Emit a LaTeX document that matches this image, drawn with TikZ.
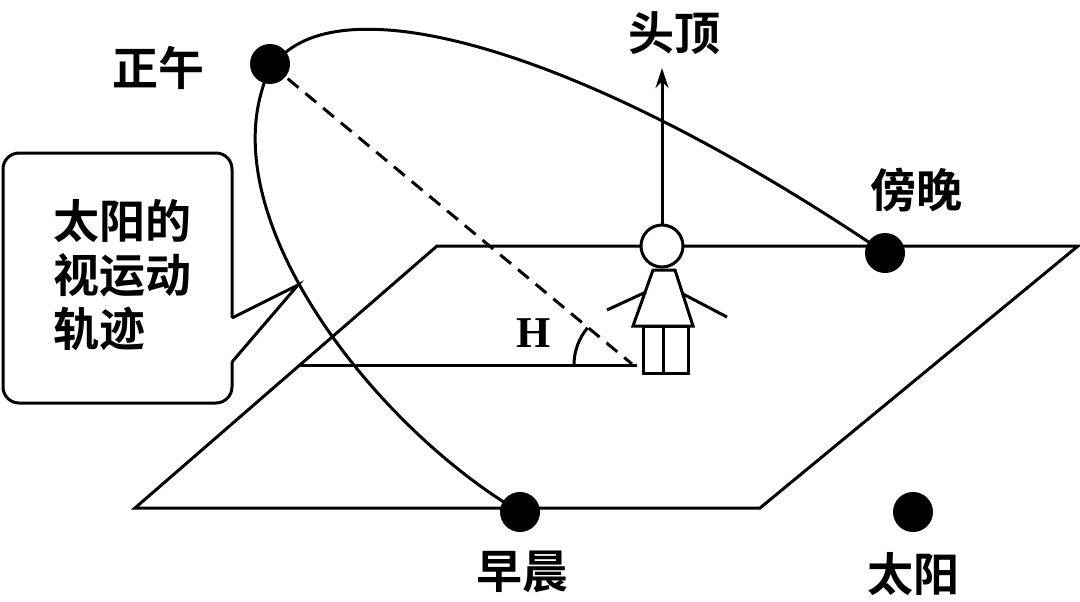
\documentclass[tikz,border=0pt]{standalone}
\usepackage{fontspec}
\usetikzlibrary{arrows.meta}
\newfontfamily\cjk{Noto Sans CJK SC Bold}
\setmainfont{Liberation Serif}
\begin{document}
\begin{tikzpicture}[x=1pt,y=-1pt,line width=3pt,
  sun/.style={circle,fill=black,minimum size=40pt,inner sep=0pt},
  lab/.style={font=\cjk\fontsize{46}{50}\selectfont,inner sep=0pt}]
\useasboundingbox (0,0) rectangle (1080,602);
% plane
\draw (437,246) -- (1078,246) -- (760,508) -- (135,508) -- cycle;
\draw (300,365) -- (637,365);
% orbit
\coordinate (m) at (520,512);
\coordinate (e) at (885,253);
\draw (m) .. controls (380,430) and (220,230) .. (262,90)
      .. controls (292,-25) and (540,20) .. (e);
% dashed
\node[sun] (noon) at (270,64) {};
\coordinate (foot) at (632,364);
\draw[dashed,dash pattern=on 14pt off 9pt] (noon.center) -- (foot);
\node[font=\bfseries\fontsize{44}{48}\selectfont,inner sep=0pt] (H) at (534,333) {H};
\draw (574,365) arc[start angle=180,end angle=220,radius=58];
% person
\node[circle,draw,fill=white,minimum size=42pt,inner sep=0pt] (head) at (662,246) {};
\coordinate (top) at (662,68);
\draw[-{Stealth[length=20pt,width=13pt]}] (head.north) -- (top);
\draw (653,270) -- (675,270) -- (693,326) -- (633,326) -- cycle;
\draw (643,326) rectangle (688,373) (663,326) -- (663,373);
\draw (646,292) -- (607,310);
\draw (683,294) -- (727,317);
% suns
\node[sun] (ev) at (e) {};
\node[sun] (mo) at (m) {};
\node[sun] (s) at (913,512) {};
% labels
\node[lab] (l1) at (158,68) {正午};
\node[lab] (l2) at (674,33) {头顶};
\node[lab] (l3) at (916,190) {傍晚};
\node[lab] (l4) at (522,572) {早晨};
\node[lab] (l5) at (913,574) {太阳};
% callout
\coordinate (tip) at (298,285);
\draw[rounded corners=16pt] (232,318) -- (232,153) -- (3,153) -- (3,403) -- (232,403) -- (232,362);
\draw[line join=miter] (232,318) -- (tip) -- (232,362);
\node[lab,align=left] (cl) at (122,275) {太阳的\\[4pt]视运动\\[4pt]轨迹};
\end{tikzpicture}
\end{document}
